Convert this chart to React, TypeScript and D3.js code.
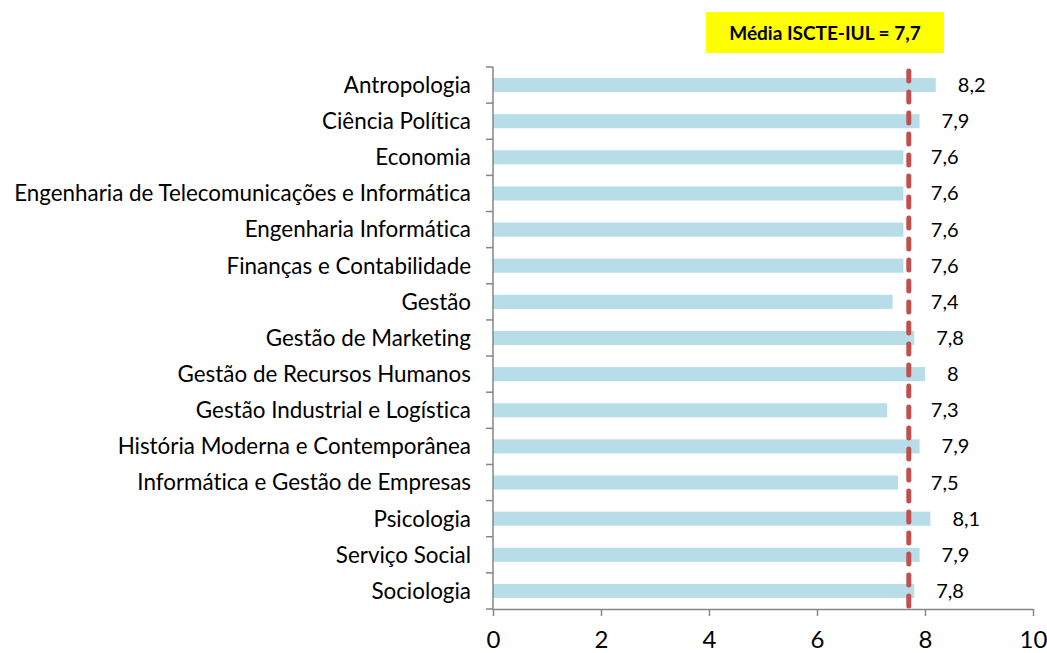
import { useEffect, useRef } from "react";
import * as d3 from "d3";

const categories = [
  "Antropologia",
  "Ciência Política",
  "Economia",
  "Engenharia de Telecomunicações e Informática",
  "Engenharia Informática",
  "Finanças e Contabilidade",
  "Gestão",
  "Gestão de Marketing",
  "Gestão de Recursos Humanos",
  "Gestão Industrial e Logística",
  "História Moderna e Contemporânea",
  "Informática e Gestão de Empresas",
  "Psicologia",
  "Serviço Social",
  "Sociologia",
];

const values = [8.2, 7.9, 7.6, 7.6, 7.6, 7.6, 7.4, 7.8, 8, 7.3, 7.9, 7.5, 8.1, 7.9, 7.8];

const mean = 7.7;
const meanLabel = "Média ISCTE-IUL = 7,7";
const xTicks = [0, 2, 4, 6, 8, 10];

const W = 1047;
const H = 653;
const margin = { top: 67, right: 14, bottom: 44, left: 493 };
const font = "Lato, 'Open Sans', sans-serif";
const axisColor = "#868686";

const fmt = (v: number) => String(v).replace(".", ",");

export default function App() {
  const svgRef = useRef<SVGSVGElement>(null);

  useEffect(() => {
    const svg = d3.select(svgRef.current);
    svg.selectAll("*").remove();

    const x = d3
      .scaleLinear()
      .domain([0, 10])
      .range([margin.left, W - margin.right]);

    const y = d3
      .scaleBand<string>()
      .domain(categories)
      .range([margin.top, H - margin.bottom])
      .padding(0);

    const step = y.step();
    const barH = step * 0.39;

    // barras
    svg
      .append("g")
      .selectAll("rect")
      .data(values)
      .enter()
      .append("rect")
      .attr("x", x(0))
      .attr("y", (d, i) => (y(categories[i]) as number) + (step - barH) / 2)
      .attr("width", (d) => x(d) - x(0))
      .attr("height", barH)
      .attr("fill", "#b7dee8");

    // eixo X
    const xAxis = svg
      .append("g")
      .attr("transform", `translate(0,${H - margin.bottom})`)
      .call(d3.axisBottom(x).tickValues(xTicks).tickSize(7).tickPadding(15).tickSizeOuter(0));
    xAxis.select(".domain").attr("stroke", axisColor).attr("stroke-width", 1.5);
    xAxis.selectAll(".tick line").attr("stroke", axisColor).attr("stroke-width", 1.5);
    xAxis
      .selectAll(".tick text")
      .attr("font-family", font)
      .attr("font-size", 24)
      .attr("fill", "#000");

    // eixo Y
    const yEdge = d3.range(categories.length + 1).map((i) => margin.top + i * step);
    svg
      .append("line")
      .attr("x1", x(0))
      .attr("x2", x(0))
      .attr("y1", margin.top)
      .attr("y2", H - margin.bottom)
      .attr("stroke", axisColor)
      .attr("stroke-width", 1.5);
    svg
      .append("g")
      .selectAll("line")
      .data(yEdge)
      .enter()
      .append("line")
      .attr("x1", x(0) - 7)
      .attr("x2", x(0))
      .attr("y1", (d) => d)
      .attr("y2", (d) => d)
      .attr("stroke", axisColor)
      .attr("stroke-width", 1.5);

    // rótulos das categorias
    svg
      .append("g")
      .selectAll("text")
      .data(categories)
      .enter()
      .append("text")
      .attr("x", x(0) - 22)
      .attr("y", (d) => (y(d) as number) + step / 2)
      .attr("dy", "0.35em")
      .attr("text-anchor", "end")
      .attr("font-family", font)
      .attr("font-size", 22.4)
      .style("font-variant-ligatures", "none")
      .attr("fill", "#000")
      .text((d) => d);

    // valores
    svg
      .append("g")
      .selectAll("text")
      .data(values)
      .enter()
      .append("text")
      .attr("x", (d) => Math.max(x(d), x(mean)) + 22)
      .attr("y", (d, i) => (y(categories[i]) as number) + step / 2)
      .attr("dy", "0.35em")
      .attr("font-family", font)
      .attr("font-size", 20)
      .attr("fill", "#000")
      .text((d) => fmt(d));

    // linha da média
    svg
      .append("line")
      .attr("x1", x(mean))
      .attr("x2", x(mean))
      .attr("y1", margin.top + 4)
      .attr("y2", H - margin.bottom)
      .attr("stroke", "#c0504d")
      .attr("stroke-width", 5)
      .attr("stroke-linecap", "round")
      .attr("stroke-dasharray", "10 11");

    // caixa da média
    const bx = 706;
    const bw = 238;
    svg
      .append("rect")
      .attr("x", bx)
      .attr("y", 12)
      .attr("width", bw)
      .attr("height", 41)
      .attr("fill", "#ffff00");
    svg
      .append("text")
      .attr("x", bx + bw / 2)
      .attr("y", 33)
      .attr("dy", "0.35em")
      .attr("text-anchor", "middle")
      .attr("font-family", font)
      .attr("font-weight", "bold")
      .attr("font-size", 19)
      .attr("fill", "#000")
      .text(meanLabel);
  }, []);

  return (
    <svg
      ref={svgRef}
      width={W}
      height={H}
      style={{ position: "absolute", left: 0, top: 0, background: "#fff" }}
    ></svg>
  );
}
